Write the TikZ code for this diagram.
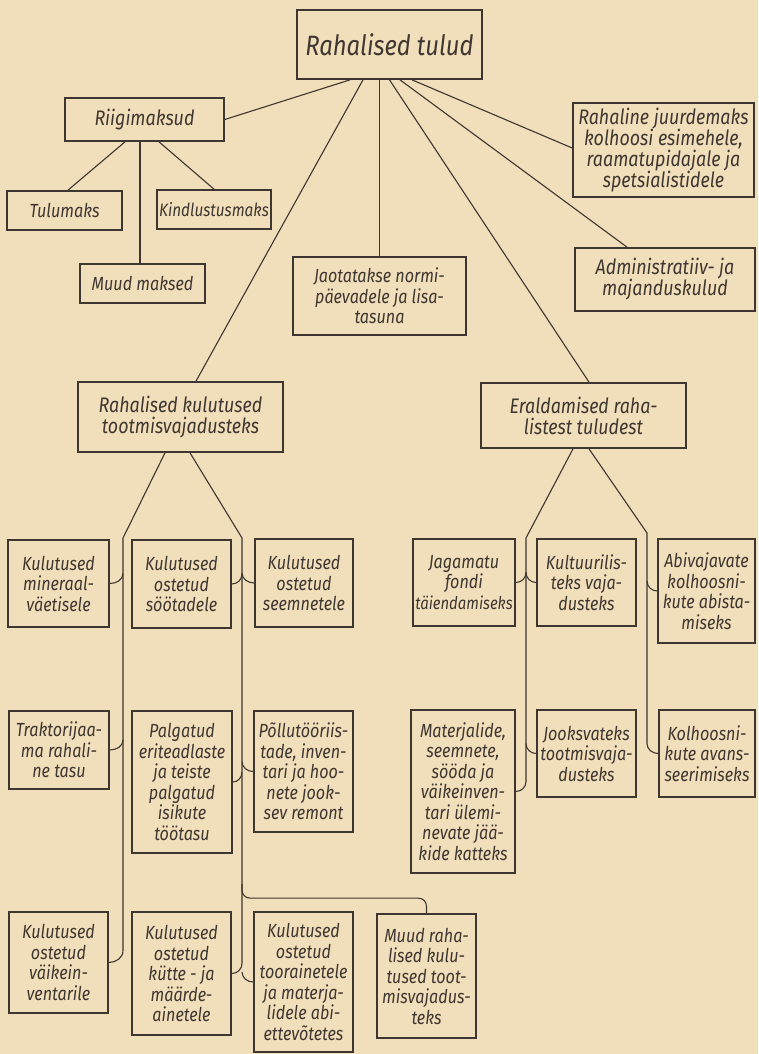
\documentclass[tikz,border=0pt]{standalone}
\usepackage{fontspec}
\newfontfamily\lettering[FakeStretch=0.85]{Fira Sans}
\usetikzlibrary{calc}
\definecolor{paper}{RGB}{241,222,186}
\definecolor{ink}{RGB}{62,54,48}

\begin{document}
\begin{tikzpicture}[x=1pt,y=-1pt,
	box/.style={draw=ink, line width=1.7pt, inner sep=0pt, align=center, text=ink,
		font=\lettering\itshape\fontsize{19}{20.5}\selectfont},
	bigtext/.style={font=\lettering\itshape\fontsize{21}{21}\selectfont},
	smalltext/.style={font=\lettering\itshape\fontsize{18}{20.5}\selectfont},
	link/.style={draw=ink, line width=1.1pt}]

		\fill[paper] (0,0) rectangle (758,1054);
		\useasboundingbox (0,0) rectangle (758,1054);

		\node[box, minimum width=185pt, minimum height=69pt, font=\lettering\itshape\fontsize{28}{30}\selectfont] (tulud) at (389.5,44.5) {Rahalised tulud};

		\node[box, bigtext, minimum width=159pt, minimum height=43pt] (riigi) at (144.5,119.5) {Riigimaksud};
		\node[box, minimum width=115pt, minimum height=39pt] (tulum) at (64.5,210.5) {Tulumaks};
		\node[box, smalltext, minimum width=114pt, minimum height=39pt] (kindl) at (214,209.5) {Kindlustusmaks};
		\node[box, minimum width=125pt, minimum height=39pt] (muudm) at (142.5,283.5) {Muud maksed};

		\node[box, minimum width=173pt, minimum height=78pt] (jaot) at (379.5,296) {Jaotatakse normi-\\päevadele ja lisa-\\tasuna};
		\node[box, bigtext, minimum width=181pt, minimum height=94pt] (juurde) at (663.5,150) {Rahaline juurdemaks\\kolhoosi esimehele,\\raamatupidajale ja\\spetsialistidele};
		\node[box, bigtext, minimum width=180pt, minimum height=63pt] (admin) at (665,279.5) {Administratiiv- ja\\majanduskulud};

		\node[box, bigtext, minimum width=205pt, minimum height=70pt] (kulud) at (180.5,417) {Rahalised kulutused\\tootmisvajadusteks};
		\node[box, bigtext, minimum width=205pt, minimum height=65pt] (erald) at (583.5,415.5) {Eraldamised raha-\\listest tuludest};

		\node[box, minimum width=101pt, minimum height=87pt] (miner) at (58.5,583.5) {Kulutused\\mineraal-\\väetisele};
		\node[box, minimum width=99pt, minimum height=88pt] (soot) at (181.5,584) {Kulutused\\ostetud\\söötadele};
		\node[box, minimum width=98pt, minimum height=88pt] (seemn) at (304,583) {Kulutused\\ostetud\\seemnetele};
		\node[box, minimum width=100pt, minimum height=78pt] (trakt) at (59,750) {Traktorijaa-\\ma rahali-\\ne tasu};
		\node[box, minimum width=100pt, minimum height=142pt] (palg) at (182,782) {Palgatud\\eriteadlaste\\ja teiste\\palgatud\\isikute\\töötasu};
		\node[box, minimum width=99pt, minimum height=121pt] (pollu) at (303.5,771.5) {Põllutööriis-\\tade, inven-\\tari ja hoo-\\nete jook-\\sev remont};
		\node[box, minimum width=99pt, minimum height=101pt] (vaike) at (58.5,962.5) {Kulutused\\ostetud\\väikein-\\ventarile};
		\node[box, minimum width=99pt, minimum height=123pt] (kutte) at (181.5,973.5) {Kulutused\\ostetud\\kütte - ja\\määrde-\\ainetele};
		\node[box, minimum width=99pt, minimum height=140pt] (toor) at (303.5,982) {Kulutused\\ostetud\\toorainetele\\ja materja-\\lidele abi-\\ettevõtetes};
		\node[box, minimum width=99pt, minimum height=124pt] (muudk) at (426.5,976) {Muud raha-\\lised kulu-\\tused toot-\\misvajadus-\\teks};

		\node[box, minimum width=102pt, minimum height=87pt] (jagam) at (464,582.5) {Jagamatu\\fondi\\{\fontsize{17.5}{20.5}\selectfont täiendamiseks}};
		\node[box, minimum width=99pt, minimum height=87pt] (kultu) at (586.5,582.5) {Kultuurilis-\\teks vaja-\\dusteks};
		\node[box, minimum width=97pt, minimum height=104pt] (abiv) at (706.5,591) {Abivajavate\\kolhoosni-\\kute abista-\\miseks};
		\node[box, minimum width=104pt, minimum height=163pt] (mater) at (463,791.5) {Materjalide,\\seemnete,\\sööda ja\\väikeinven-\\tari ülemi-\\nevate jää-\\kide katteks};
		\node[box, minimum width=99pt, minimum height=87pt] (jooks) at (586.5,753.5) {Jooksvateks\\tootmisvaja-\\dusteks};
		\node[box, minimum width=96pt, minimum height=87pt] (kolh) at (707,753.5) {Kolhoosni-\\kute avans-\\seerimiseks};

		\coordinate (kl) at (123,538);
		\coordinate (kr) at (242,538);
		\coordinate (km) at (242,884);
		\coordinate (el) at (526,538);
		\coordinate (er) at (647,533);

		\draw[link] ($(tulud.south)+(-39.5,0)$) -- (riigi.east);
		\draw[link] ($(tulud.south)+(-26.5,0)$) -- ($(kulud.north)+(15.5,0)$);
		\draw[link] (jaot.north |- tulud.south) -- (jaot.north);
		\draw[link] (tulud.south) -- ($(erald.north)+(5.5,0)$);
		\draw[link] ($(tulud.south)+(10.5,0)$) -- ($(admin.north)+(-38,0)$);
		\draw[link] ($(tulud.south)+(22.5,0)$) -- ($(juurde.west)+(0,-2)$);

		\draw[link] ($(riigi.south)+(-19.5,0)$) -- ($(tulum.north)+(3.5,0)$);
		\draw[link] ($(riigi.south)+(-4.5,0)$) -- ($(muudm.north)+(-2.5,0)$);
		\draw[link] ($(riigi.south)+(14.5,0)$) -- (kindl.north);

		\draw[link] ($(kulud.south)+(-15.5,0)$) -- (kl) -- ($(kl |- vaike.east)+(0,-12)$) to[out=-90,in=0] (vaike.east);
		\draw[link] (miner.east) to[out=0,in=-90] ($(kl |- miner.east)+(0,-10)$);
		\draw[link] (trakt.east) to[out=0,in=-90] ($(kl |- trakt.east)+(0,-10)$);

		\draw[link] ($(kulud.south)+(9.5,0)$) -- (kr) -- ($(kr |- kutte.east)+(0,-10)$);
		\draw[link] (soot.east) to[out=0,in=-90] ($(kr |- soot.east)+(0,-10)$);
		\draw[link] (seemn.west) to[out=180,in=-90] ($(kr |- seemn.west)+(0,-10)$);
		\draw[link] (palg.east) to[out=0,in=-90] ($(kr |- palg.east)+(0,-10)$);
		\draw[link] (pollu.west) to[out=180,in=-90] ($(kr |- pollu.west)+(0,-10)$);
		\draw[link] (kutte.east) to[out=0,in=-90] ($(kr |- kutte.east)+(0,-10)$);
		\draw[link] (toor.west) to[out=180,in=-90] ($(kr |- toor.west)+(0,-10)$);
		\draw[link, rounded corners=8pt] (km) |- ($(muudk.north)+(0,-15)$) -- (muudk.north);

		\draw[link] ($(erald.south)+(-10.5,0)$) -- (el) -- ($(el |- mater.east)+(0,-10)$) to[out=-90,in=0] (mater.east);
		\draw[link] (jagam.east) to[out=0,in=-90] ($(el |- jagam.east)+(0,-10)$);
		\draw[link] (kultu.west) to[out=180,in=-90] ($(el |- kultu.west)+(0,-10)$);
		\draw[link] (jooks.west) to[out=180,in=-90] ($(el |- jooks.west)+(0,-10)$);

		\draw[link] ($(erald.south)+(5.5,0)$) -- (er) -- ($(er |- kolh.west)+(0,-10)$) to[out=-90,in=180] (kolh.west);
		\draw[link] (abiv.west) to[out=180,in=-90] ($(er |- abiv.west)+(0,-10)$);

	\end{tikzpicture}
\end{document}
